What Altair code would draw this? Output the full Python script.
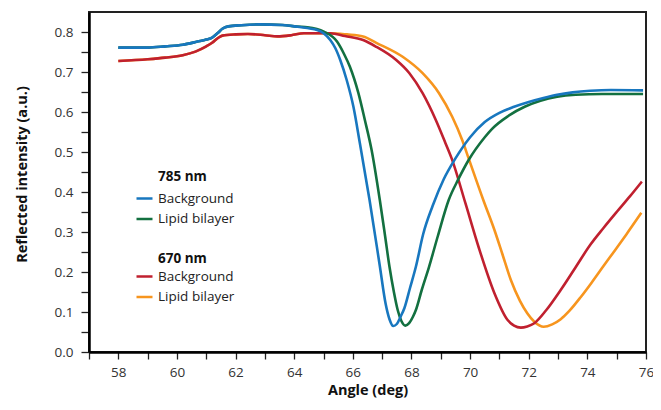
import altair as alt
import pandas as pd

# ---------------- data ----------------
SERIES = ["Background", "Lipid bilayer"]
HEADINGS = ["785 nm", "670 nm"]

ang_785_bg = [58, 59, 59.6, 60.2, 60.7, 61.0, 61.2, 61.4, 61.55, 61.75, 62.2, 62.8, 63.6,
              64.11, 64.78, 65.0, 65.23, 65.4, 65.57, 65.79, 66.02, 66.24, 66.57, 66.92,
              67.12, 67.25, 67.38, 67.5, 67.62, 67.76, 67.95, 68.15, 68.4, 68.72, 69.1,
              69.5, 70.0, 70.5, 71.0, 71.5, 72.0, 72.5, 72.97, 73.5, 74.1, 74.8, 75.9]
val_785_bg = [0.761, 0.761, 0.764, 0.768, 0.776, 0.781, 0.786, 0.798, 0.808, 0.814, 0.817,
              0.819, 0.8175, 0.813, 0.805, 0.797, 0.78, 0.76, 0.73, 0.68, 0.613, 0.522,
              0.38, 0.215, 0.12, 0.082, 0.065, 0.07, 0.087, 0.11, 0.16, 0.213, 0.295, 0.365,
              0.432, 0.484, 0.537, 0.575, 0.598, 0.613, 0.625, 0.635, 0.643, 0.649, 0.653,
              0.655, 0.654]

ang_785_lip = [58, 59, 59.6, 60.2, 60.7, 61.0, 61.2, 61.4, 61.55, 61.75, 62.2, 62.8, 63.6,
               64.11, 64.45, 65.01, 65.46, 65.7, 65.9, 66.19, 66.41, 66.64, 66.92, 67.1,
               67.25, 67.4, 67.53, 67.66, 67.79, 67.92, 68.05, 68.15, 68.35, 68.6, 68.9,
               69.27, 69.6, 69.95, 70.5, 70.75, 71.3, 71.86, 72.4, 72.97, 73.6, 74.5, 75.9]
val_785_lip = [0.761, 0.761, 0.764, 0.768, 0.776, 0.781, 0.786, 0.798, 0.808, 0.814, 0.817,
               0.819, 0.8175, 0.8135, 0.812, 0.801, 0.776, 0.745, 0.713, 0.647, 0.58, 0.505,
               0.38, 0.29, 0.213, 0.15, 0.105, 0.077, 0.066, 0.072, 0.088, 0.105, 0.155,
               0.213, 0.29, 0.38, 0.432, 0.48, 0.537, 0.558, 0.59, 0.613, 0.628, 0.638,
               0.643, 0.645, 0.645]

ang_670_bg = [58, 59, 59.6, 60.2, 60.63, 61.0, 61.2, 61.4, 61.55, 62.0, 62.42, 63.0, 63.43,
              63.9, 64.33, 64.78, 65.23, 65.73, 66.35, 66.8, 67.48, 67.93, 68.38, 68.83,
              69.16, 69.37, 69.84, 70.3, 70.83, 71.28, 71.5, 71.73, 71.95, 72.19, 72.6, 73.09,
              73.6, 74.1, 74.55, 75.0, 75.45, 75.86]
val_670_bg = [0.7275, 0.732, 0.736, 0.742, 0.751, 0.764, 0.773, 0.785, 0.791, 0.794, 0.795,
              0.792, 0.789, 0.792, 0.797, 0.797, 0.797, 0.79, 0.78, 0.763, 0.73, 0.697, 0.647,
              0.58, 0.522, 0.484, 0.372, 0.26, 0.147, 0.08, 0.066, 0.061, 0.064, 0.072,
              0.105, 0.155, 0.212, 0.268, 0.31, 0.35, 0.389, 0.426]

ang_670_lip = [58, 59, 59.6, 60.2, 60.63, 61.0, 61.2, 61.4, 61.55, 62.0, 62.42, 63.0, 63.43,
               63.9, 64.33, 64.78, 65.23, 65.8, 66.35, 66.8, 67.7, 68.38, 68.94, 69.39, 69.73,
               69.95, 70.45, 70.83, 71.1, 71.39, 71.7, 71.95, 72.2, 72.51, 72.8, 73.09, 73.4,
               73.77, 74.15, 74.55, 74.95, 75.33, 75.84]
val_670_lip = [0.7275, 0.732, 0.736, 0.742, 0.751, 0.764, 0.773, 0.785, 0.791, 0.794, 0.795,
               0.792, 0.789, 0.792, 0.797, 0.797, 0.797, 0.794, 0.789, 0.773, 0.738, 0.697,
               0.647, 0.588, 0.53, 0.484, 0.38, 0.305, 0.245, 0.18, 0.128, 0.097, 0.075,
               0.063, 0.069, 0.082, 0.104, 0.137, 0.174, 0.215, 0.255, 0.294, 0.348]

x_ticks = list(range(57, 77))
y_ticks = [round(i * 0.05, 2) for i in range(17)]

COLORS_785 = ["#1877bf", "#137040"]
COLORS_670 = ["#c0202f", "#f7951e"]

FONT = "Open Sans"


def frame(angles, values, series):
    return pd.DataFrame({"angle": angles, "value": values, "series": series})


df785 = pd.concat([frame(ang_785_bg, val_785_bg, SERIES[0]),
                   frame(ang_785_lip, val_785_lip, SERIES[1])], ignore_index=True)
df670 = pd.concat([frame(ang_670_bg, val_670_bg, SERIES[0]),
                   frame(ang_670_lip, val_670_lip, SERIES[1])], ignore_index=True)

x_enc = alt.X(
    "angle:Q",
    scale=alt.Scale(domain=[57, 76], nice=False, zero=False),
    axis=alt.Axis(
        title="Angle (deg)", values=x_ticks,
        labelExpr="datum.value % 2 == 0 ? datum.label : ''",
        labelOverlap=False, labelFlush=False, grid=False,
        tickSize=7, labelPadding=6, titlePadding=5,
    ),
)
y_enc = alt.Y(
    "value:Q",
    scale=alt.Scale(domain=[0, 0.85], nice=False, zero=True),
    axis=alt.Axis(
        title="Reflected intensity (a.u.)", values=y_ticks,
        labelExpr="round(datum.value * 100) % 10 == 0 ? format(datum.value, '.1f') : ''",
        labelOverlap=False, labelFlush=False, grid=False,
        tickSize=8, labelPadding=8, titlePadding=25, titleY=162,
    ),
)


def legend(ly):
    return alt.Legend(
        title=None, orient="none", legendX=46, legendY=ly,
        symbolType="stroke", symbolSize=256, symbolStrokeWidth=2.5,
        labelOffset=4, rowPadding=4.5, padding=0,
    )


def wave_layer(df, colors, ly):
    color = alt.Color(
        "series:N",
        scale=alt.Scale(domain=SERIES, range=colors),
        legend=legend(ly),
    )
    lines = []
    for s in [SERIES[1], SERIES[0]]:
        lines.append(
            alt.Chart(df[df["series"] == s])
            .mark_line(strokeWidth=2.6, interpolate="monotone")
            .encode(x=x_enc, y=y_enc, color=color)
        )
    return alt.layer(*lines)


def heading(text, hy):
    return (
        alt.Chart(pd.DataFrame({"label": [text]}))
        .mark_text(align="left", baseline="middle", font=FONT, fontSize=13.5,
                   fontWeight="bold", color="#111")
        .encode(text="label:N", x=alt.value(69), y=alt.value(hy))
    )


chart = (
    alt.layer(
        wave_layer(df670, COLORS_670, 255),
        wave_layer(df785, COLORS_785, 177),
        heading(HEADINGS[0], 165),
        heading(HEADINGS[1], 247),
    )
    .resolve_scale(color="independent")
    .properties(
        width=557, height=340,
        autosize=alt.AutoSizeParams(type="none"),
        padding={"left": 81, "top": 4, "right": 7, "bottom": 50},
    )
    .configure_view(stroke="#222", strokeWidth=2)
    .configure_axis(
        domainColor="#000", domainWidth=2.5, tickColor="#222", tickWidth=1.3,
        labelFont=FONT, labelFontSize=13.5, labelColor="#333",
        titleFont=FONT, titleFontSize=14.5, titleFontWeight="bold", titleColor="#111",
    )
    .configure_legend(
        labelFont=FONT, labelFontSize=13.5, labelColor="#222",
    )
)

chart.save("out.html", embed_options={"renderer": "svg", "actions": False})
